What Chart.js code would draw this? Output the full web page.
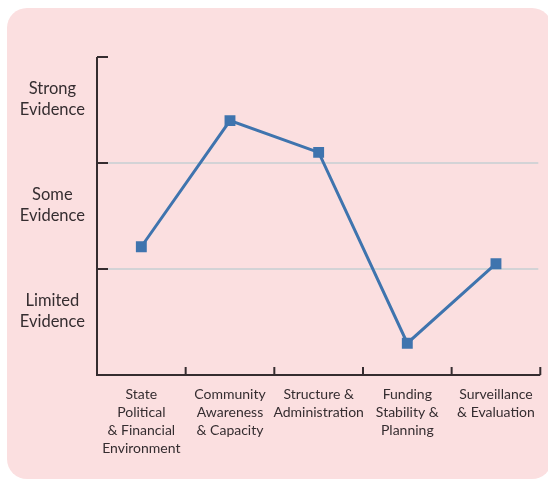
<!DOCTYPE html>
<html>
<head>
<meta charset="utf-8">
<script src="https://cdn.jsdelivr.net/npm/chart.js@4"></script>
<style>
html,body{margin:0;padding:0;background:#fff;}
#wrap{width:548px;height:481px;position:relative;}
</style>
</head>
<body>
<div id="wrap"><canvas id="c" width="548" height="481"></canvas></div>
<script>
const categories = [
  ['State', 'Political', '& Financial', 'Environment'],
  ['Community', 'Awareness', '& Capacity'],
  ['Structure &', 'Administration'],
  ['Funding', 'Stability &', 'Planning'],
  ['Surveillance', '& Evaluation']
];
const evidenceValues = [1.21, 2.40, 2.10, 0.30, 1.05];
const levelLabels = [['Limited', 'Evidence'], ['Some', 'Evidence'], ['Strong', 'Evidence']];
const levelLabelPositions = [0.6, 1.6, 2.6];
const levelBoundaries = [0, 1, 2, 3];

const TEXT = '#352d30';
const AXIS = '#352c2f';
const GRID = '#c6cfd3';
const LINE = '#3f74ae';

const decor = {
  id: 'decor',
  beforeDraw(chart) {
    const ctx = chart.ctx;
    ctx.save();
    ctx.fillStyle = '#fbdfe0';
    ctx.beginPath();
    ctx.roundRect(7, 8, 545, 471, 20);
    ctx.fill();
    ctx.restore();
  },
  beforeDatasetsDraw(chart) {
    const ctx = chart.ctx;
    const x = chart.scales.x, y = chart.scales.y;
    const a = chart.chartArea;
    ctx.save();
    ctx.strokeStyle = GRID;
    ctx.lineWidth = 1.5;
    levelBoundaries.slice(1, -1).forEach(v => {
      const py = Math.round(y.getPixelForValue(v));
      ctx.beginPath();
      ctx.moveTo(a.left, py);
      ctx.lineTo(a.right - 2, py);
      ctx.stroke();
    });
    ctx.strokeStyle = AXIS;
    ctx.lineWidth = 2;
    ctx.beginPath();
    ctx.moveTo(a.left, y.getPixelForValue(3));
    ctx.lineTo(a.left, a.bottom);
    ctx.lineTo(a.right, a.bottom);
    ctx.stroke();
    levelBoundaries.forEach(v => {
      const py = y.getPixelForValue(v);
      ctx.beginPath();
      ctx.moveTo(a.left, py);
      ctx.lineTo(a.left + 11, py);
      ctx.stroke();
    });
    const n = categories.length;
    for (let i = 1; i <= n; i++) {
      const px = i === n ? a.right : (x.getPixelForValue(i - 1) + x.getPixelForValue(i)) / 2;
      ctx.beginPath();
      ctx.moveTo(px, a.bottom);
      ctx.lineTo(px, a.bottom - 8);
      ctx.stroke();
    }
    ctx.restore();
  }
};

new Chart(document.getElementById('c'), {
  type: 'line',
  data: {
    labels: categories,
    datasets: [{
      data: evidenceValues,
      borderColor: LINE,
      backgroundColor: LINE,
      borderWidth: 3,
      pointStyle: 'rect',
      pointRadius: 7.7,
      pointHoverRadius: 7.7,
      pointBorderWidth: 0,
      tension: 0
    }]
  },
  options: {
    responsive: false,
    animation: false,
    events: [],
    layout: { padding: { left: 1, top: 57, right: 3, bottom: 0 } },
    plugins: { legend: { display: false }, tooltip: { enabled: false } },
    scales: {
      x: {
        type: 'category',
        offset: true,
        border: { display: false },
        grid: { display: false, drawTicks: false },
        ticks: {
          color: TEXT,
          font: { family: 'Lato', size: 14, lineHeight: 1.3 },
          padding: 10,
          maxRotation: 0,
          autoSkip: false
        },
        afterFit(s) { s.height = 106; }
      },
      y: {
        min: 0,
        max: 3,
        border: { display: false },
        grid: { display: false, drawTicks: false },
        afterBuildTicks(s) { s.ticks = levelLabelPositions.map(v => ({ value: v })); },
        ticks: {
          color: TEXT,
          font: { family: 'Lato', size: 16.5, lineHeight: 1.3 },
          crossAlign: 'center',
          padding: 12,
          callback(v) {
            const i = levelLabelPositions.indexOf(v);
            return i >= 0 ? levelLabels[i] : '';
          }
        },
        afterFit(s) { s.width = 96; }
      }
    }
  },
  plugins: [decor]
});
</script>
</body>
</html>
